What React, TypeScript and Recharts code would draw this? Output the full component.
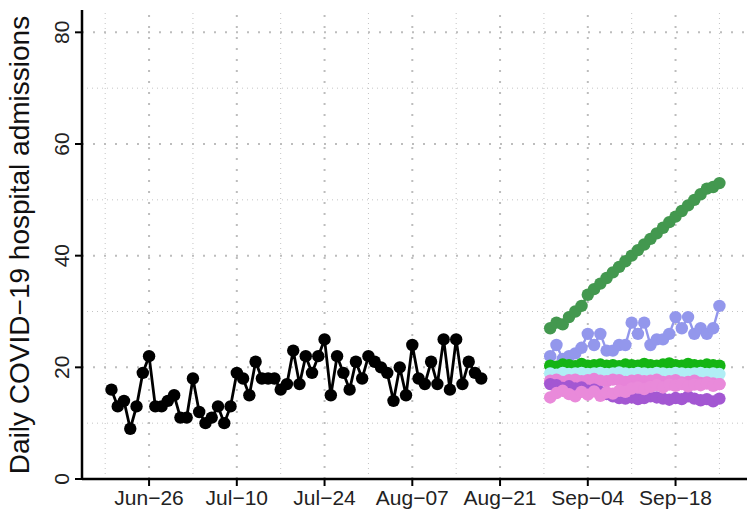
import { LineChart, Line, XAxis, YAxis, ReferenceLine, Label } from "recharts";

// x values are days counted from Jun 26
const tickDays = [0, 14, 28, 42, 56, 70, 84];
const tickLabels = ["Jun−26", "Jul−10", "Jul−24", "Aug−07", "Aug−21", "Sep−04", "Sep−18"];
const minorDays = [-7, 7, 21, 35, 49, 63, 77, 91];
const yTicks = [0, 20, 40, 60, 80];
const yMinor = [10, 30, 50, 70];

// observed admissions, Jun 20 .. Aug 18
const obsStart = -6;
const observed = [
  16, 13, 14, 9, 13, 19, 22, 13, 13, 14, 15, 11, 11, 18, 12, 10, 11, 13, 10, 13,
  19, 18, 15, 21, 18, 18, 18, 16, 17, 23, 17, 22, 19, 22, 25, 15, 22, 19, 16, 21,
  18, 22, 21, 20, 19, 14, 20, 15, 24, 18, 17, 21, 17, 25, 16, 25, 17, 21, 19, 18,
];

// forecasts, Aug 29 .. Sep 25
const fcStart = 64;
const darkGreen = [
  27, 28, 27.7, 29, 30, 31, 33, 34, 35, 36, 37, 38, 39, 40, 41, 42, 43, 44, 45, 46,
  47, 48, 49, 50, 51, 52, 52.3, 53,
];
const lavender = [
  22, 24, 21.5, 22, 22.5, 23.5, 26, 24, 26, 23, 23, 24, 24, 28, 26, 28, 24, 25, 25, 26,
  29, 27, 29, 26, 27, 26, 27, 31,
];
const brightGreen = [
  20.3, 20.1, 20.5, 20.4, 20.2, 20.6, 20.3, 20.4, 20.5, 20.3, 20.4, 20.2, 20.5, 20.4,
  20.3, 20.6, 20.4, 20.3, 20.5, 20.7, 20.4, 20.3, 20.6, 20.4, 20.3, 20.5, 20.4, 20.3,
];
const cyan = [
  18.9, 18.7, 19, 18.8, 18.9, 19, 18.8, 18.9, 19, 18.8, 18.9, 19.1, 18.9, 18.8, 19,
  18.9, 18.8, 19, 18.9, 18.8, 19, 18.9, 18.8, 18.9, 19, 18.8, 18.9, 18.8,
];
const upperPink = [
  17.6, 17.8, 17.4, 17.7, 17.8, 17.5, 17.7, 17.9, 17.6, 17.5, 17.8, 17.7, 17.4, 17.6,
  17.7, 17.5, 17.6, 17.8, 17.4, 17.5, 17.7, 17.3, 17.4, 17.6, 17.2, 17.3, 17.1, 17,
];
const purple = [
  17, 16.8, 16.3, 16.6, 16.2, 16.4, 15.8, 16, 15.6, 15.2, 14.8, 14.5, 14.4, 14.6, 14.3,
  14.5, 14.8, 14.6, 14.4, 14.2, 14.5, 14.3, 14.8, 14.4, 14.1, 14.3, 13.9, 14.4,
];
const lowerPink = [
  14.6, 15.4, 15.8, 15.2, 14.8, 15.6, 15.1, 15.7, 14.9, 15.5, 15.3, 15.8, 15.6, 16.2,
  16.4, 16.1, 16.5, 16.8, 16.4, 16.9, 16.7, 17, 16.6, 16.9, 16.8, 17.1, 16.7, 17,
];

const forecasts = [
  { name: "darkGreen", values: darkGreen, color: "#43984f" },
  { name: "lavender", values: lavender, color: "#9397ec" },
  { name: "brightGreen", values: brightGreen, color: "#14b414" },
  { name: "cyan", values: cyan, color: "#b0eef5" },
  { name: "upperPink", values: upperPink, color: "#e784d9" },
  { name: "purple", values: purple, color: "#a357d2" },
  { name: "lowerPink", values: lowerPink, color: "#e98ada" },
];

const obsData = observed.map((v, i) => ({ x: obsStart + i, y: v }));

const font = "'Liberation Sans', Arial, Helvetica, sans-serif";

const YTick = ({ x, y, payload }: any) => (
  <text
    x={x - 4}
    y={y}
    transform={`rotate(-90 ${x - 4} ${y})`}
    textAnchor="middle"
    fontSize={21}
    fontFamily={font}
    fill="#222"
  >
    {payload.value}
  </text>
);

const XTick = ({ x, y, payload }: any) => (
  <text x={x} y={y + 17} textAnchor="middle" fontSize={21} fontFamily={font} fill="#222">
    {tickLabels[tickDays.indexOf(payload.value)]}
  </text>
);

export default function App() {
  return (
    <div style={{ position: "absolute", left: 0, top: 0, background: "#fff" }}>
      <LineChart width={747} height={512} margin={{ top: 10, right: 0, bottom: 0, left: 0 }}>
        {minorDays.map((d) => (
          <ReferenceLine key={"mx" + d} x={d} stroke="#c4c4c4" strokeWidth={1} strokeDasharray="1 4" />
        ))}
        {yMinor.map((v) => (
          <ReferenceLine key={"my" + v} y={v} stroke="#c4c4c4" strokeWidth={1} strokeDasharray="1 4" />
        ))}
        {tickDays.map((d) => (
          <ReferenceLine key={"gx" + d} x={d} stroke="#bdbdbd" strokeWidth={2} strokeDasharray="2 9" />
        ))}
        {yTicks.slice(1).map((v) => (
          <ReferenceLine key={"gy" + v} y={v} stroke="#bdbdbd" strokeWidth={2} strokeDasharray="2 9" />
        ))}
        <XAxis
          type="number"
          dataKey="x"
          domain={[-10.7, 95.4]}
          ticks={tickDays}
          allowDataOverflow
          height={33}
          stroke="#000"
          axisLine={{ stroke: "#000", strokeWidth: 2.5 }}
          tickLine={{ stroke: "#000", strokeWidth: 2 }}
          tickSize={7}
          tick={<XTick />}
        />
        <YAxis
          type="number"
          dataKey="y"
          domain={[0, 84]}
          ticks={yTicks}
          allowDataOverflow
          width={82}
          axisLine={{ stroke: "#000", strokeWidth: 2.5 }}
          tickLine={{ stroke: "#000", strokeWidth: 2 }}
          tickSize={7}
          tick={<YTick />}
        >
          <Label
            content={() => (
              <text
                x={29}
                y={245}
                transform="rotate(-90 29 245)"
                textAnchor="middle"
                fontSize={28}
                fontFamily={font}
                fill="#111"
              >
                Daily COVID−19 hospital admissions
              </text>
            )}
          />
        </YAxis>
        <Line
          data={obsData}
          dataKey="y"
          stroke="#000"
          strokeWidth={2.8}
          dot={{ r: 6.2, fill: "#000", stroke: "#000", strokeWidth: 0 }}
          isAnimationActive={false}
        />
        {forecasts.map((s) => (
          <Line
            key={s.name}
            data={s.values.map((v, i) => ({ x: fcStart + i, y: v }))}
            dataKey="y"
            stroke={s.color}
            strokeWidth={2.4}
            dot={{ r: 6.2, fill: s.color, stroke: s.color, strokeWidth: 0 }}
            isAnimationActive={false}
          />
        ))}
      </LineChart>
    </div>
  );
}
